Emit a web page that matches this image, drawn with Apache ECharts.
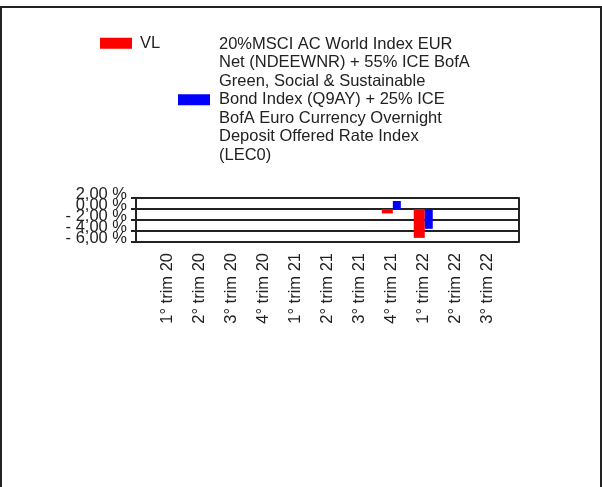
<!DOCTYPE html>
<html>
<head>
<meta charset="utf-8">
<script src="https://cdn.jsdelivr.net/npm/echarts@6/dist/echarts.min.js"></script>
<style>
  html, body { margin: 0; padding: 0; background: #fff; overflow: hidden; }
  #frame { position: absolute; left: 0; top: 6px; width: 598px; height: 500px; border: 2px solid #222; pointer-events: none; }
  #chart { position: absolute; left: 0; top: 0; width: 602px; height: 487px; }
</style>
</head>
<body>
<div id="chart"></div>
<div id="frame"></div>
<script>
// Quarter labels shown along the category axis
const quarters = ['1° trim 20', '2° trim 20', '3° trim 20', '4° trim 20',
                  '1° trim 21', '2° trim 21', '3° trim 21', '4° trim 21',
                  '1° trim 22', '2° trim 22', '3° trim 22'];

// Quarterly returns (%), null where no figure is reported
const vlValues = [null, null, null, null, null, null, null, -0.8, -5.25, null, null];
const benchmarkValues = [null, null, null, null, null, null, null, 1.45, -3.6, null, null];

// Series names
const vlName = 'VL';
const benchmarkName = '20%MSCI AC World Index EUR\nNet (NDEEWNR) + 55% ICE BofA\nGreen, Social & Sustainable\nBond Index (Q9AY) + 25% ICE\nBofA Euro Currency Overnight\nDeposit Offered Rate Index\n(LEC0)';

// Value-axis ticks (%), split into two interleaved sets so the
// tightly packed labels are all drawn
const yTicksA = [2, -2, -6];
const yTicksB = [0, -4];

const FONT = 'Arial, "Liberation Sans", sans-serif';
const TEXT = '#222';

// An empty slot on each side keeps the quarters centred on ticks
const cats = [''].concat(quarters, ['']);
const pad = arr => [null].concat(arr, [null]);

function fmtPct(v) {
  const s = Math.abs(v).toFixed(2).replace('.', ',') + ' %';
  return v < 0 ? '- ' + s : s;
}

const yLabelStyle = {
  margin: 9, fontFamily: FONT, fontSize: 16.5, color: TEXT,
  verticalAlign: 'bottom', lineHeight: 8,
  hideOverlap: false,
  formatter: fmtPct
};

const chart = echarts.init(document.getElementById('chart'), null, { renderer: 'canvas' });
chart.setOption({
  animation: false,
  backgroundColor: 'transparent',
  textStyle: { fontFamily: FONT },
  legend: [
    {
      data: [vlName], left: 100, top: 34, padding: 0,
      itemWidth: 32, itemHeight: 11, icon: 'rect',
      textStyle: { fontFamily: FONT, fontSize: 16.5, color: TEXT, lineHeight: 18.5, padding: [0, 0, 0, 3] }
    },
    {
      data: [benchmarkName], left: 178, top: 35, padding: 0,
      itemWidth: 32, itemHeight: 11, icon: 'rect',
      textStyle: { fontFamily: FONT, fontSize: 16.5, color: TEXT, lineHeight: 18.5, padding: [0, 0, 0, 4] }
    }
  ],
  grid: { left: 136, right: 83, top: 198, height: 44, containLabel: false },
  xAxis: {
    type: 'category',
    data: cats,
    boundaryGap: false,
    axisLine: { show: false, onZero: false },
    axisTick: { show: false },
    splitLine: { show: false },
    axisLabel: {
      interval: 0, rotate: 90, margin: 11,
      fontFamily: FONT, fontSize: 16.5, color: TEXT,
      padding: [0, 0, 7, 0]
    }
  },
  yAxis: [
    {
      type: 'value', min: -6, max: 2, interval: 2,
      axisLine: { show: true, lineStyle: { color: '#222', width: 2 } },
      axisTick: { show: true, length: 5, lineStyle: { color: '#222', width: 2 } },
      splitLine: { show: true, lineStyle: { color: '#222', width: 2 } },
      axisLabel: Object.assign({ customValues: yTicksA }, yLabelStyle)
    },
    {
      type: 'value', min: -6, max: 2, interval: 2, position: 'left',
      axisLine: { show: false },
      axisTick: { show: false },
      splitLine: { show: false },
      axisLabel: Object.assign({ customValues: yTicksB }, yLabelStyle)
    },
    {
      type: 'value', min: -6, max: 2, interval: 2, position: 'right',
      axisLine: { show: true, lineStyle: { color: '#222', width: 2 } },
      axisTick: { show: false },
      splitLine: { show: false },
      axisLabel: { show: false }
    }
  ],
  series: [
    {
      name: vlName, type: 'bar', data: pad(vlValues),
      barWidth: 11, barGap: '0%',
      itemStyle: { color: '#ff0000' }
    },
    {
      name: benchmarkName, type: 'bar', data: pad(benchmarkValues),
      barWidth: 8, barGap: '0%',
      itemStyle: { color: '#0000ff' }
    }
  ]
});
</script>
</body>
</html>
